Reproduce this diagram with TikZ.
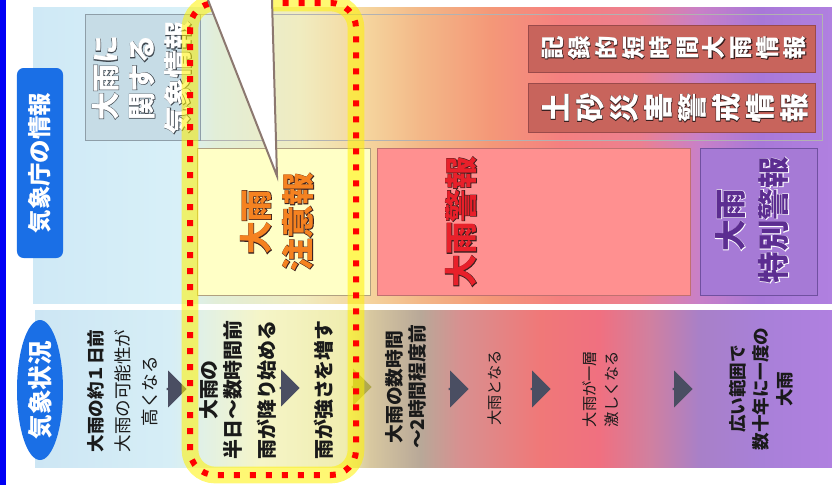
\documentclass[tikz,border=0pt]{standalone}
\usepackage{fontspec}
\setmainfont{Noto Sans CJK JP}
\usetikzlibrary{shapes.geometric, shapes.arrows}
\definecolor{barblue}{HTML}{0000F5}
\definecolor{jmablue}{HTML}{1A6FE6}
\definecolor{flowtxt}{HTML}{1A1A1A}
\definecolor{arrowgray}{HTML}{4A4E62}
\definecolor{olivearrow}{HTML}{A6A03A}
\definecolor{genbox}{HTML}{C6DCE6}
\definecolor{genedge}{HTML}{8E9EA8}
\definecolor{chuifill}{HTML}{FFFFC6}
\definecolor{chuiedge}{HTML}{B0A080}
\definecolor{keihofill}{HTML}{FF9090}
\definecolor{keihoedge}{HTML}{C07070}
\definecolor{tokufill}{HTML}{A67AD6}
\definecolor{tokuedge}{HTML}{7050A0}
\definecolor{sokufill}{HTML}{C8645C}
\definecolor{sokuedge}{HTML}{9A4A4A}
\definecolor{chuiink}{HTML}{F58220}
\definecolor{keihoink}{HTML}{E8202A}
\definecolor{tokuink}{HTML}{5C2D91}
\definecolor{darkink}{HTML}{3A2020}
\definecolor{genink}{HTML}{404850}
\definecolor{calloutedge}{HTML}{8C7870}
% panel colours, left to right
\definecolor{tpa}{HTML}{CFE9F6}
\definecolor{tpb}{HTML}{D8F0F8}
\definecolor{tpc}{HTML}{E2EED8}
\definecolor{tpd}{HTML}{F0ECC0}
\definecolor{tpe}{HTML}{F5D8A0}
\definecolor{tpf}{HTML}{F3B888}
\definecolor{tpg}{HTML}{F49878}
\definecolor{tph}{HTML}{F58080}
\definecolor{tpi}{HTML}{EC8090}
\definecolor{tpj}{HTML}{C880C8}
\definecolor{tpk}{HTML}{A878D8}
\definecolor{tpl}{HTML}{B080E0}
\definecolor{lpa}{HTML}{CDE6F4}
\definecolor{lpb}{HTML}{D6EEF6}
\definecolor{lpc}{HTML}{F5F5C8}
\definecolor{lpd}{HTML}{F0EDB0}
\definecolor{lpe}{HTML}{D8C8A0}
\definecolor{lpf}{HTML}{B8A898}
\definecolor{lpg}{HTML}{D89090}
\definecolor{lph}{HTML}{F07878}
\definecolor{lpi}{HTML}{F07080}
\definecolor{lpj}{HTML}{D080A0}
\definecolor{lpk}{HTML}{A880C8}
\definecolor{lpl}{HTML}{A880D8}
\definecolor{lpm}{HTML}{B080E0}
\pgfdeclarehorizontalshading{toppanel}{100bp}{color(0bp)=(tpa); color(25bp)=(tpa);
  color(34.2bp)=(tpb); color(36.4bp)=(tpc); color(41.7bp)=(tpd); color(45.5bp)=(tpe);
  color(49.2bp)=(tpf); color(53.6bp)=(tpg); color(58bp)=(tph); color(63bp)=(tpi);
  color(66.7bp)=(tpj); color(70.5bp)=(tpk); color(75bp)=(tpl); color(100bp)=(tpl)}
\pgfdeclarehorizontalshading{lowpanel}{100bp}{color(0bp)=(lpa); color(25bp)=(lpa);
  color(33.5bp)=(lpb); color(39.1bp)=(lpc); color(44.4bp)=(lpd); color(46bp)=(lpe);
  color(49.2bp)=(lpf); color(51.7bp)=(lpg); color(56.7bp)=(lph); color(60.4bp)=(lpi);
  color(63.6bp)=(lpj); color(66.7bp)=(lpk); color(70.5bp)=(lpl); color(75bp)=(lpm);
  color(100bp)=(lpm)}
% outlined text: name, options, font, position, fill, outline, text
\newcommand{\olnode}[7]{%
  \node[#2, text=#6, font={#3\addfontfeature{FakeBold=3}}] (#1 halo) at #4 {#7};
  \node[#2, text=#5, font={#3}] (#1) at #4 {#7};}

\begin{document}
\begin{tikzpicture}[x=0.03cm, y=-0.03cm,
  pill/.style={fill=jmablue, text=white, rotate=90, inner sep=0pt,
               font=\bfseries\fontsize{20}{24}\selectfont},
  flow/.style={rotate=90, align=center, text=flowtxt, inner sep=0pt},
  bigtxt/.style={rotate=90, align=center, inner sep=0pt},
  steparrow/.style={single arrow, fill=arrowgray, draw=none, inner sep=0pt,
                    minimum height=0.6cm, minimum width=1.1cm,
                    single arrow head extend=0.12cm}
]
  \useasboundingbox (0,0) rectangle (832,493);
  \fill[barblue] (0,0) rectangle (6,485);

  % panels
  \shade[shading=toppanel] (33,7) rectangle (832,303);
  \shade[shading=lowpanel] (35,310) rectangle (832,467);
  \draw[black!30, line width=0.5pt] (195,14) rectangle (822,140);

  % boxes of the upper panel
  \draw[fill=genbox, draw=genedge] (85,14) rectangle (200,140);
  \draw[fill=chuifill, draw=chuiedge] (197,148) rectangle (370,295);
  \draw[fill=keihofill, draw=keihoedge] (377,148) rectangle (690,295);
  \draw[fill=tokufill, draw=tokuedge] (700,148) rectangle (817,295);
  \draw[fill=sokufill, draw=sokuedge] (528,25) rectangle (815,72);
  \draw[fill=sokufill, draw=sokuedge] (528,83) rectangle (815,132);

  \node[pill, rounded corners=0.2cm, minimum width=5.7cm, minimum height=1.38cm]
    (jmainfo) at (40,163) {気象庁の情報};
  \node[pill, ellipse, minimum width=4.2cm, minimum height=1.38cm,
        font=\bfseries\fontsize{21}{24}\selectfont]
    (weather) at (40,390) {気象状況};

  \olnode{gen}{bigtxt}{\bfseries\fontsize{24}{31}\selectfont}{(142,78)}{white}{genink}
    {大雨に\\関する\\気象情報}
  \olnode{chui}{bigtxt}{\bfseries\fontsize{28}{36}\selectfont}{(277,222)}{chuiink}{darkink}
    {大雨\\注意報}
  \olnode{keiho}{bigtxt}{\bfseries\fontsize{28}{36}\selectfont}{(461,222)}{keihoink}{darkink}
    {大雨警報}
  \olnode{toku}{bigtxt}{\bfseries\fontsize{27}{37}\selectfont}{(752,220)}{tokuink}{white}
    {大雨\\特別警報}
  \olnode{kiroku}{bigtxt}{\bfseries\fontsize{20}{23}\selectfont}{(674,48)}{white}{darkink}
    {記\\録\\的\\短\\時\\間\\大\\雨\\情\\報}
  \olnode{dosha}{bigtxt}{\bfseries\fontsize{25}{29}\selectfont}{(675,108)}{white}{darkink}
    {土\\砂\\災\\害\\警\\戒\\情\\報}

  % weather situation, step by step
  \node[flow, font=\fontsize{15}{23}\selectfont] (day) at (123,391)
    {{\bfseries 大雨の約１日前}\\大雨の可能性が\\高くなる};
  \node[flow, font=\bfseries\fontsize{17}{21}\selectfont] (halfday) at (221,390)
    {大雨の\\半日～数時間前};
  \node[flow, font=\bfseries\fontsize{17}{21}\selectfont] (rainstart) at (267,390)
    {雨が降り始める};
  \node[flow, font=\bfseries\fontsize{17}{21}\selectfont] (rainup) at (324,390)
    {雨が強さを増す};
  \node[flow, font=\bfseries\fontsize{16}{20}\selectfont] (hours) at (406,387)
    {大雨の数時間\\～2時間程度前};
  \node[flow, font=\fontsize{13}{19}\selectfont] (heavy) at (495,388) {大雨となる};
  \node[flow, font=\fontsize{13}{19}\selectfont] (heavier) at (601,389)
    {大雨が一層\\激しくなる};
  \node[flow, font=\bfseries\fontsize{15}{20}\selectfont] (rare) at (761,389)
    {広い範囲で\\数十年に一度の\\大雨};

  \node[steparrow] (a1) at (176,389) {};
  \node[steparrow] (a2) at (289,388) {};
  \node[steparrow, fill=olivearrow, opacity=.8] (a3) at (361,387) {};
  \node[steparrow] (a4) at (458,389) {};
  \node[steparrow] (a5) at (540,389) {};
  \node[steparrow] (a6) at (682,389) {};

  % highlight frame
  \draw[line width=0.5cm, yellow, opacity=.55, rounded corners=0.75cm]
    (190,3) rectangle (356,475);
  \draw[line width=0.18cm, red, dash pattern=on 0.18cm off 0.3cm, rounded corners=0.75cm]
    (190,3) rectangle (356,475);

  % callout tail
  \fill[white] (208,0) -- (277,176) -- (272,0) -- cycle;
  \draw[calloutedge, line width=0.06cm] (208,0) -- (277,176) -- (272,0);
\end{tikzpicture}
\end{document}
